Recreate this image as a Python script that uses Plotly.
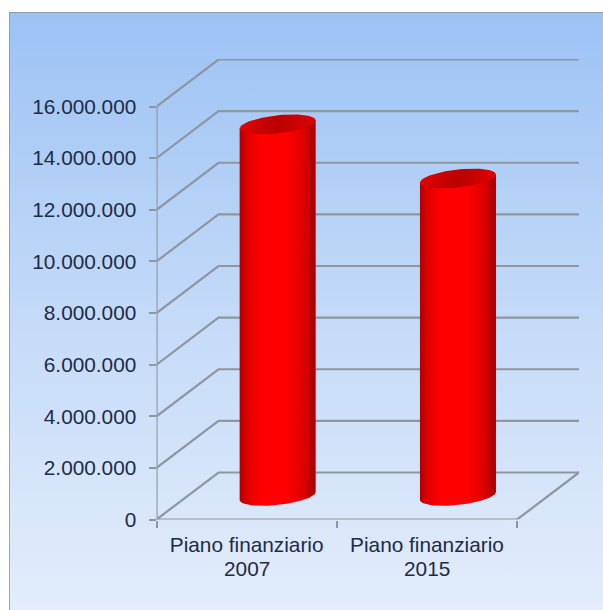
import numpy as np
import plotly.graph_objects as go

# --- data ---
category_line1 = ["Piano finanziario", "Piano finanziario"]
category_line2 = ["2007", "2015"]
values = [14400000, 12300000]
tick_values = [0, 2000000, 4000000, 6000000, 8000000, 10000000, 12000000, 14000000, 16000000]
tick_labels = ["0", "2.000.000", "4.000.000", "6.000.000", "8.000.000",
               "10.000.000", "12.000.000", "14.000.000", "16.000.000"]

# --- geometry (pixels) ---
W, H = 603, 610
x0_px, y0_px = 156.5, 519.5      # axis origin
cat_px = 180.3                   # width of one category
val_px = 413.0 / 16000000        # pixels per unit
depth_x_px, depth_y_px = 62, 47  # wall offset
right_px, top_px = 579, 59

dx = depth_x_px / cat_px
dv = depth_y_px / val_px
xmax = (right_px - x0_px) / cat_px
ymax = (y0_px - top_px) / val_px
mid_dx, mid_dv = dx / 2, dv / 2
a = 38.0 / cat_px                # semi-axis across
rad_px = 9.0                     # semi-axis in depth
slope_px = 4.0                   # rise of the ellipse right end

GRID = "#8f969f"
TEXT = "#1d2b47"
centers = [0.5, 1.5]

fig = go.Figure()

# background panel, on its own full-size axes
fig.add_trace(go.Scatter(
    x=[0, 1, 1, 0, 0], y=[0, 0, 1, 1, 0], mode="lines", fill="toself",
    line=dict(width=0), hoverinfo="skip", showlegend=False,
    fillgradient=dict(type="vertical",
                      colorscale=[[0, "#e3edfb"], [0.5, "#c3daf8"], [1, "#9cc2f4"]]),
    xaxis="x", yaxis="y"))
fig.add_trace(go.Scatter(
    x=[0, 0, 1], y=[0, 1, 1], mode="lines", line=dict(color="#8a8f96", width=1.5),
    hoverinfo="skip", showlegend=False, cliponaxis=False, xaxis="x", yaxis="y"))

# walls: gridlines
for v in tick_values:
    fig.add_trace(go.Scatter(
        x=[0, dx, xmax], y=[v, v + dv, v + dv], mode="lines",
        line=dict(color=GRID, width=2.2), hoverinfo="skip", showlegend=False,
        cliponaxis=False, xaxis="x2", yaxis="y2"))
# floor and axis lines
fig.add_trace(go.Scatter(
    x=[2, 2 + dx], y=[0, dv], mode="lines", line=dict(color=GRID, width=2.2),
    hoverinfo="skip", showlegend=False, cliponaxis=False, xaxis="x2", yaxis="y2"))
fig.add_trace(go.Scatter(
    x=[0, 2], y=[0, 0], mode="lines", line=dict(color=GRID, width=2.2),
    hoverinfo="skip", showlegend=False, cliponaxis=False, xaxis="x2", yaxis="y2"))
fig.add_trace(go.Scatter(
    x=[0, 0], y=[0, tick_values[-1]], mode="lines", line=dict(color=GRID, width=2.2),
    hoverinfo="skip", showlegend=False, cliponaxis=False, xaxis="x2", yaxis="y2"))

# bars: core of each cylinder, narrower than the shaded body so no corner shows
fig.add_trace(go.Bar(
    x=[c + mid_dx for c in centers], y=values, base=[mid_dv, mid_dv],
    width=2 * a * 0.8, marker=dict(color="#ff0000", line=dict(width=0)),
    showlegend=False, xaxis="x2", yaxis="y2"))


def ellipse(cx, cv, t):
    xs = cx + a * np.cos(t)
    ys = cv + (slope_px * np.cos(t) + rad_px * np.sin(t)) / val_px
    return xs, ys


body_scale = [[0, "#b00000"], [0.1, "#e00000"], [0.28, "#ff0000"], [0.62, "#ff0000"],
              [0.85, "#dc0000"], [1, "#a00000"]]
cap_scale = [[0, "#e00404"], [0.5, "#bb0000"], [1, "#dc0404"]]
for c, val in zip(centers, values):
    cx = c + mid_dx
    t_bot = np.linspace(0, -np.pi, 60)
    xb, yb = ellipse(cx, mid_dv, t_bot)
    xt, yt = ellipse(cx, val + mid_dv, np.array([np.pi, 0.0]))
    fig.add_trace(go.Scatter(
        x=list(xt) + list(xb) + [xt[0]], y=list(yt) + list(yb) + [yt[0]],
        mode="lines", fill="toself", line=dict(width=0),
        fillgradient=dict(type="horizontal", colorscale=body_scale),
        hoverinfo="skip", showlegend=False, xaxis="x2", yaxis="y2"))
    xc, yc = ellipse(cx, val + mid_dv, np.linspace(0, 2 * np.pi, 80))
    fig.add_trace(go.Scatter(
        x=xc, y=yc, mode="lines", fill="toself", line=dict(width=0),
        fillgradient=dict(type="horizontal", colorscale=cap_scale),
        hoverinfo="skip", showlegend=False, xaxis="x2", yaxis="y2"))

FONT = dict(family="Liberation Sans, Arial, sans-serif", size=20.8, color=TEXT)
annotations = [dict(x=c, y=0, xref="x2", yref="y2", text=t, showarrow=False,
                    xanchor="center", yanchor="top", yshift=-35, font=FONT)
               for c, t in zip(centers, category_line2)]

fig.update_layout(
    width=W, height=H, margin=dict(l=0, r=0, t=0, b=0), autosize=False,
    paper_bgcolor="#ffffff", plot_bgcolor="rgba(0,0,0,0)", showlegend=False,
    barmode="overlay", hovermode=False,
    annotations=annotations,
    xaxis=dict(domain=[9 / W, 1], range=[0, 1], visible=False, fixedrange=True,
               automargin=False),
    yaxis=dict(domain=[0, 1 - 12 / H], range=[0, 1], visible=False, fixedrange=True,
               automargin=False),
    xaxis2=dict(domain=[x0_px / W, right_px / W], range=[0, xmax], anchor="y2",
                automargin=False,
                showgrid=False, zeroline=False, showline=False,
                tickmode="array", tickvals=centers, ticktext=category_line1,
                ticks="", tickfont=FONT, ticklabelstandoff=11,
                minor=dict(tickmode="array", tickvals=[0, 1, 2], ticks="outside",
                           ticklen=7, tickwidth=1.5, tickcolor=GRID, showgrid=False)),
    yaxis2=dict(domain=[(H - y0_px) / H, (H - top_px) / H], range=[0, ymax], anchor="x2",
                automargin=False,
                showgrid=False, zeroline=False, showline=False,
                tickmode="array", tickvals=tick_values, ticktext=tick_labels,
                ticks="outside", ticklen=7, tickwidth=1.5, tickcolor=GRID,
                tickfont=FONT, ticklabelstandoff=8),
)

fig.write_html("out.html", config={"displayModeBar": False},
               post_script="document.body.style.margin='0';")
